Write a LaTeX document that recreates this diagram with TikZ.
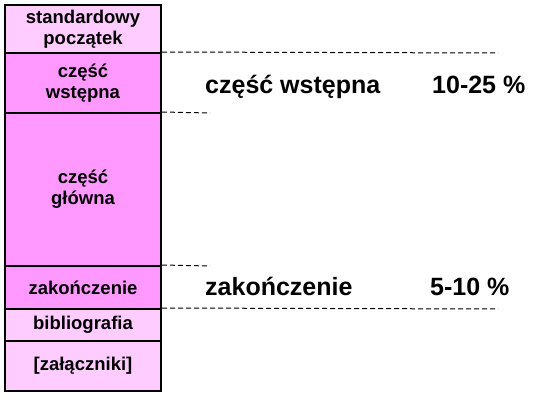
\documentclass[tikz,border=0pt]{standalone}
\usepackage{fontspec}
\setmainfont{Liberation Sans}[BoldFont={Liberation Sans Bold}]
\definecolor{lightpink}{HTML}{FFCCFF}
\definecolor{midpink}{HTML}{FF99FF}
\begin{document}
\begin{tikzpicture}[x=1pt,y=-1pt,
  row/.style={draw=black,line width=2pt,minimum width=156pt,inner sep=0pt,
    align=center,font=\fontsize{18.5}{21}\selectfont\bfseries,text=black},
  light/.style={row,fill=lightpink},
  mid/.style={row,fill=midpink},
  guide/.style={draw=black,line width=1pt,dash pattern=on 5pt off 3pt},
  big/.style={anchor=base west,inner sep=0pt,font=\fontsize{25}{28}\selectfont\bfseries}]
\useasboundingbox (0,0) rectangle (538,405);
\node[light,minimum height=48pt] (r1) at (83,29) {standardowy\\początek};
\node[mid,minimum height=60pt] (r2) at (83,83) {część\\wstępna};
\node[mid,minimum height=153pt] (r3) at (83,189.5) {część\\główna};
\node[mid,minimum height=43pt] (r4) at (83,287.5) {zakończenie};
\node[light,minimum height=32pt] (r5) at (83,325) {bibliografia};
\node[light,minimum height=50pt] (r6) at (83,366) {[załączniki]};
\coordinate (e1) at (498,53);
\coordinate (e2) at (210,113);
\coordinate (e3) at (210,266);
\coordinate (e4) at (498,309);
\draw[guide] (r2.north east) -- (e1);
\draw[guide] (r3.north east) -- (e2);
\draw[guide] (r4.north east) -- (e3);
\draw[guide] (r5.north east) -- (e4);
\node[big] (t1) at (205,93) {część wstępna};
\node[big] (p1) at (432,93) {10-25 \%};
\node[big] (t2) at (205,295) {zakończenie};
\node[big] (p2) at (430,295) {5-10 \%};
\end{tikzpicture}
\end{document}
